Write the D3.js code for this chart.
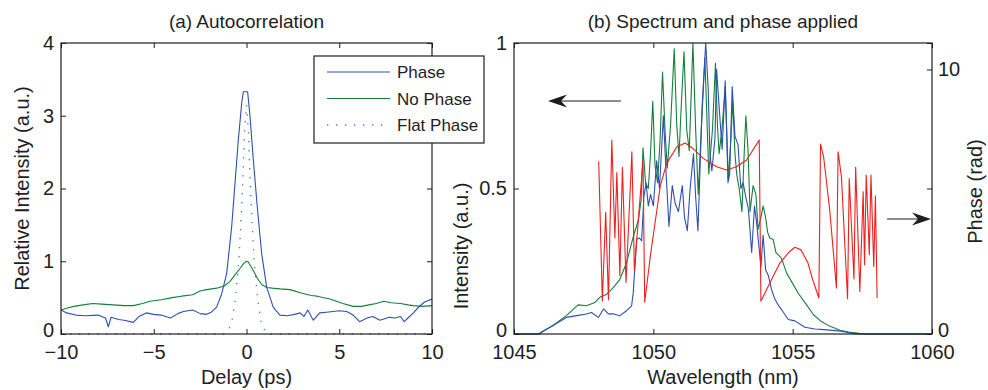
<!DOCTYPE html>
<html><head><meta charset="utf-8">
<script src="https://cdn.jsdelivr.net/npm/d3@7"></script>
<style>
body{margin:0;background:#fff}
svg{display:block}
text{font-family:"Liberation Sans",Arial,Helvetica,sans-serif;fill:#1e1e1e}
</style>
</head><body>
<svg id="c" width="988" height="390"></svg>
<script>
// ---------- (a) Autocorrelation ----------
const acPhaseDelay = [-10.0,-9.7,-9.2,-8.7,-8.0,-7.6,-7.45,-7.3,-6.9,-6.6,-6.1,-5.8,-5.4,-5.0,-4.6,-4.1,-3.7,-3.4,-2.9,-2.5,-2.15,-1.9,-1.61,-1.34,-1.07,-0.8,-0.62,-0.44,-0.26,-0.17,0.06,0.19,0.37,0.58,0.82,1.09,1.44,1.8,2.2,2.6,2.9,3.1,3.3,3.6,3.95,4.3,4.67,5.0,5.4,5.75,6.1,6.5,6.8,7.2,7.7,8.0,8.3,8.5,8.7,9.0,9.2,9.6,10.0];
const acPhase      = [0.33,0.29,0.26,0.25,0.26,0.22,0.10,0.23,0.20,0.19,0.16,0.24,0.29,0.27,0.26,0.22,0.28,0.31,0.33,0.28,0.27,0.30,0.37,0.55,0.83,1.47,2.07,2.67,3.17,3.33,3.33,2.99,2.39,1.75,1.10,0.64,0.37,0.26,0.25,0.27,0.29,0.24,0.33,0.19,0.29,0.30,0.31,0.32,0.31,0.26,0.17,0.22,0.24,0.19,0.23,0.22,0.24,0.17,0.22,0.29,0.35,0.44,0.48];

const acNoPhaseDelay = [-10.0,-9.6,-9.3,-8.8,-8.3,-7.8,-7.2,-6.6,-6.1,-5.6,-5.2,-4.6,-4.0,-3.5,-2.9,-2.5,-2.15,-1.6,-1.2,-0.9,-0.6,-0.35,-0.15,0.0,0.1,0.37,0.6,0.82,1.09,1.4,1.8,2.35,3.0,3.5,3.8,4.5,5.2,5.75,6.2,6.6,7.0,7.4,7.8,8.3,8.7,9.0,9.5,10.0];
const acNoPhase      = [0.33,0.36,0.38,0.40,0.42,0.41,0.40,0.39,0.39,0.42,0.45,0.47,0.50,0.52,0.54,0.59,0.61,0.63,0.66,0.72,0.82,0.90,0.97,1.00,0.99,0.87,0.76,0.68,0.64,0.63,0.62,0.61,0.56,0.53,0.52,0.48,0.42,0.38,0.38,0.40,0.42,0.45,0.43,0.42,0.40,0.39,0.38,0.39];

const acFlatDelay = [-10,-1.2,-1.0,-0.8,-0.6,-0.5,-0.4,-0.3,-0.2,-0.1,0,0.1,0.2,0.3,0.4,0.5,0.6,0.8,1.0,1.2,10];
const acFlat      = [0,0,0.04,0.15,0.48,0.75,1.05,1.55,2.1,2.8,3.15,2.8,2.1,1.55,1.05,0.75,0.48,0.15,0.04,0,0];

const acDelayTicks = [-10,-5,0,5,10];
const acIntensityTicks = [0,1,2,3,4];
const legendLabels = ["Phase","No Phase","Flat Phase"];

// ---------- (b) Spectrum and phase applied ----------
const wlPhase = [1045.0,1045.9,1045.99,1046.4,1046.88,1047.25,1047.6,1047.78,1048.03,1048.21,1048.39,1048.58,1048.8,1049.04,1049.22,1049.28,1049.34,1049.4,1049.5,1049.58,1049.66,1049.74,1049.82,1049.9,1050.0,1050.12,1050.22,1050.36,1050.46,1050.56,1050.68,1050.78,1050.9,1051.04,1051.12,1051.22,1051.32,1051.44,1051.52,1051.6,1051.67,1051.75,1051.88,1051.97,1052.03,1052.1,1052.21,1052.27,1052.39,1052.47,1052.58,1052.68,1052.74,1052.83,1052.93,1053.04,1053.14,1053.22,1053.31,1053.41,1053.53,1053.63,1053.71,1053.79,1053.86,1053.94,1054.03,1054.13,1054.24,1054.36,1054.48,1054.6,1054.84,1055.08,1055.44,1055.8,1056.12,1056.74,1057.1,1057.3,1060.0];
const specPhase = [0,0,0.006,0.029,0.057,0.063,0.069,0.074,0.057,0.086,0.069,0.069,0.063,0.08,0.097,0.143,0.235,0.326,0.33,0.32,0.47,0.52,0.44,0.48,0.44,0.595,0.50,0.75,0.55,0.37,0.51,0.45,0.42,0.51,0.40,0.355,0.50,0.62,0.47,0.355,0.55,0.78,1.0,0.84,0.62,0.56,0.67,0.91,0.74,0.635,0.87,0.52,0.55,0.85,0.68,0.65,0.50,0.52,0.475,0.43,0.28,0.44,0.38,0.30,0.23,0.34,0.22,0.20,0.153,0.12,0.10,0.084,0.05,0.045,0.023,0.017,0.015,0.01,0.003,0,0];

const wlNoPhase = [1045.0,1045.9,1046.0,1046.4,1046.88,1047.3,1047.6,1047.9,1048.08,1048.33,1048.57,1048.8,1049.04,1049.28,1049.46,1049.56,1049.63,1049.72,1049.82,1049.9,1049.98,1050.06,1050.15,1050.24,1050.33,1050.42,1050.5,1050.62,1050.75,1050.84,1050.92,1051.0,1051.1,1051.2,1051.29,1051.35,1051.42,1051.52,1051.61,1051.72,1051.85,1051.93,1051.99,1052.12,1052.23,1052.3,1052.36,1052.46,1052.58,1052.64,1052.69,1052.77,1052.85,1052.93,1052.99,1053.08,1053.18,1053.26,1053.32,1053.4,1053.47,1053.58,1053.68,1053.76,1053.86,1053.94,1054.03,1054.1,1054.18,1054.3,1054.4,1054.5,1054.6,1054.78,1054.96,1055.2,1055.5,1055.74,1056.0,1056.3,1056.7,1057.0,1057.4,1057.6,1060.0];
const specNoPhase = [0,0,0.008,0.029,0.063,0.10,0.097,0.108,0.126,0.137,0.16,0.188,0.245,0.335,0.39,0.46,0.64,0.52,0.50,0.62,0.80,0.58,0.52,0.66,0.90,0.70,0.57,0.72,0.98,0.72,0.61,0.78,0.97,0.70,0.63,0.80,1.0,0.70,0.48,0.70,0.95,0.72,0.55,0.70,0.93,0.72,0.62,0.70,0.85,0.68,0.53,0.65,0.80,0.62,0.55,0.50,0.42,0.62,0.75,0.63,0.42,0.51,0.48,0.36,0.40,0.44,0.40,0.35,0.33,0.325,0.28,0.27,0.26,0.21,0.18,0.14,0.10,0.067,0.045,0.028,0.013,0.007,0.002,0,0];

const wlApplied = [1048.04,1048.17,1048.29,1048.39,1048.51,1048.62,1048.69,1048.8,1048.89,1049.02,1049.23,1049.32,1049.63,1049.69,1049.9,1050.12,1050.25,1050.48,1050.84,1051.14,1051.43,1051.79,1052.27,1052.63,1052.98,1053.34,1053.8,1053.86,1054.18,1054.54,1054.89,1055.08,1055.3,1055.55,1055.72,1055.94,1056.0,1056.11,1056.33,1056.57,1056.63,1056.75,1056.97,1057.03,1057.2,1057.26,1057.41,1057.53,1057.58,1057.64,1057.75,1057.81,1057.91,1057.97,1058.03];
const phaseApplied = [6.52,1.25,4.6,1.3,7.33,3.63,6.1,2.2,6.3,1.95,6.89,2.4,6.57,1.2,3.0,4.63,5.6,6.45,7.07,7.22,7.01,6.64,6.32,6.2,6.32,6.57,7.33,1.24,1.93,2.68,3.12,3.28,3.18,2.68,2.05,1.36,7.18,6.70,4.69,1.74,6.89,5.94,1.33,5.88,2.08,6.30,1.61,5.38,2.62,6.01,3.0,6.01,2.55,5.22,1.36];

const wlTicks = [1045,1050,1055,1060];
const intTicks = [0,0.5,1];
const phaseTicks = [0,10];

// ---------- drawing ----------
const BLUE = "#2f4fb0", GREEN = "#13803a", RED = "#ee2020", DOT = "#5470c0", INK = "#1e1e1e";
const svg = d3.select("#c");
const fmtMinus = d => d < 0 ? "\u2212" + Math.abs(d) : String(d);

// lift the bottom-corner "0" labels slightly so they don't collide with the x tick labels
function liftZero(axisG) {
  axisG.selectAll(".tick").filter(d => d === 0).select("text").attr("y", -4);
}

function frame(g, x, y, xt, yt, xfmt, yfmt, mirrorY) {
  const [x0, x1] = x.range(), [y0, y1] = y.range();
  const ax = g.append("g").attr("transform", `translate(0,${y0})`)
    .call(d3.axisBottom(x).tickValues(xt).tickFormat(xfmt).tickSizeInner(-5).tickSizeOuter(0).tickPadding(11));
  const axT = g.append("g").attr("transform", `translate(0,${y1})`)
    .call(d3.axisTop(x).tickValues(xt).tickFormat("").tickSizeInner(-5).tickSizeOuter(0));
  const ay = g.append("g").attr("transform", `translate(${x0},0)`)
    .call(d3.axisLeft(y).tickValues(yt).tickFormat(yfmt).tickSizeInner(-5).tickSizeOuter(0).tickPadding(7));
  [ax, axT, ay].forEach(a => a.select(".domain").remove());
  liftZero(ay);
  if (mirrorY) {
    const ar = g.append("g").attr("transform", `translate(${x1},0)`)
      .call(d3.axisRight(y).tickValues(yt).tickFormat("").tickSizeInner(-5).tickSizeOuter(0));
    ar.select(".domain").remove();
    ar.selectAll("line").attr("stroke", INK);
  }
  g.selectAll(".tick line").attr("stroke", INK).attr("stroke-width", 1);
  g.selectAll(".tick text").attr("font-size", 20).attr("fill", INK)
    .style("font-family", '"Liberation Sans",Arial,Helvetica,sans-serif');
  g.append("rect").attr("x", x0).attr("y", y1).attr("width", x1 - x0).attr("height", y0 - y1)
    .attr("fill", "none").attr("stroke", INK).attr("stroke-width", 1.2);
}

function series(g, x, y, xs, ys, color, clip, dash) {
  const line = d3.line().x(d => x(d[0])).y(d => y(d[1]));
  const p = g.append("path").datum(d3.zip(xs, ys)).attr("d", line)
    .attr("fill", "none").attr("stroke", color).attr("stroke-width", 1.1)
    .attr("stroke-linejoin", "round").attr("clip-path", `url(#${clip})`);
  if (dash) p.attr("stroke-dasharray", dash).attr("stroke-width", 1.3);
  return p;
}

function clipRect(id, x, y) {
  svg.append("defs").append("clipPath").attr("id", id).append("rect")
    .attr("x", x.range()[0]).attr("y", y.range()[1] - 1)
    .attr("width", x.range()[1] - x.range()[0]).attr("height", y.range()[0] - y.range()[1] + 2);
}

// panel (a)
const xA = d3.scaleLinear().domain([-10, 10]).range([61, 432]);
const yA = d3.scaleLinear().domain([0, 4]).range([334, 43]);
clipRect("clipA", xA, yA);
const gA = svg.append("g");
series(gA, xA, yA, acFlatDelay, acFlat, DOT, "clipA", "1.3,7.7");
series(gA, xA, yA, acNoPhaseDelay, acNoPhase, GREEN, "clipA");
series(gA, xA, yA, acPhaseDelay, acPhase, BLUE, "clipA");
frame(gA, xA, yA, acDelayTicks, acIntensityTicks, fmtMinus, d3.format("d"), true);

gA.append("text").attr("x", 246.5).attr("y", 28).attr("text-anchor", "middle").attr("font-size", 19).text("(a) Autocorrelation");
gA.append("text").attr("x", 246.5).attr("y", 384).attr("text-anchor", "middle").attr("font-size", 20).text("Delay (ps)");
gA.append("text").attr("transform", "translate(22,188.5) rotate(-90)").attr("dy", "0.36em")
  .attr("text-anchor", "middle").attr("font-size", 20).text("Relative Intensity (a.u.)");

// panel (b)
const xB = d3.scaleLinear().domain([1045, 1060]).range([514, 932]);
const yB = d3.scaleLinear().domain([0, 1]).range([334, 43]);
const yP = d3.scaleLinear().domain([0, 11]).range([334, 43]);
clipRect("clipB", xB, yB);
const gB = svg.append("g");
series(gB, xB, yB, wlNoPhase, specNoPhase, GREEN, "clipB");
series(gB, xB, yB, wlPhase, specPhase, BLUE, "clipB");
series(gB, xB, yP, wlApplied, phaseApplied, RED, "clipB");
frame(gB, xB, yB, wlTicks, intTicks, d3.format(""), d => String(d), true);
const aR = gB.append("g").attr("transform", `translate(${xB.range()[1]},0)`)
  .call(d3.axisRight(yP).tickValues(phaseTicks).tickFormat(d3.format("d")).tickSizeInner(-5).tickSizeOuter(0).tickPadding(6));
aR.select(".domain").remove();
aR.selectAll("line").attr("stroke", INK);
aR.selectAll("text").attr("font-size", 20).attr("fill", INK);
liftZero(aR);

gB.append("text").attr("x", 723).attr("y", 28).attr("text-anchor", "middle").attr("font-size", 19).text("(b) Spectrum and phase applied");
gB.append("text").attr("x", 723).attr("y", 384).attr("text-anchor", "middle").attr("font-size", 20).text("Wavelength (nm)");
gB.append("text").attr("transform", "translate(461,246) rotate(-90)").attr("dy", "0.36em")
  .attr("text-anchor", "middle").attr("font-size", 20).text("Intensity (a.u.)");
gB.append("text").attr("transform", "translate(975,191.5) rotate(-90)").attr("dy", "0.36em")
  .attr("text-anchor", "middle").attr("font-size", 20).text("Phase (rad)");

// arrows
function arrow(x0, x1, y) {
  const dir = Math.sign(x1 - x0);
  svg.append("line").attr("x1", x0).attr("x2", x1 - dir * 4).attr("y1", y).attr("y2", y)
    .attr("stroke", INK).attr("stroke-width", 1.2);
  const b = x1 - dir * 19, n = x1 - dir * 13;
  svg.append("path").attr("d", `M${x1},${y} L${b},${y - 6.5} L${n},${y} L${b},${y + 6.5} Z`).attr("fill", INK);
}
arrow(621, 548, 101);
arrow(887, 931, 219);

// legend
const lg = svg.append("g");
lg.append("rect").attr("x", 314).attr("y", 56).attr("width", 170).attr("height", 87)
  .attr("fill", "#fff").attr("stroke", INK).attr("stroke-width", 1.2);
const legColors = [BLUE, GREEN, DOT];
const legY = [72, 98.5, 125];
legendLabels.forEach((lab, i) => {
  const l = lg.append("line").attr("x1", 327).attr("x2", 390).attr("y1", legY[i]).attr("y2", legY[i])
    .attr("stroke", legColors[i]).attr("stroke-width", 1.1);
  if (i === 2) l.attr("stroke-dasharray", "1.3,7.7").attr("stroke-width", 1.3);
  lg.append("text").attr("x", 397).attr("y", legY[i]).attr("dy", "0.36em").attr("font-size", 17).text(lab);
});
</script>
</body></html>
